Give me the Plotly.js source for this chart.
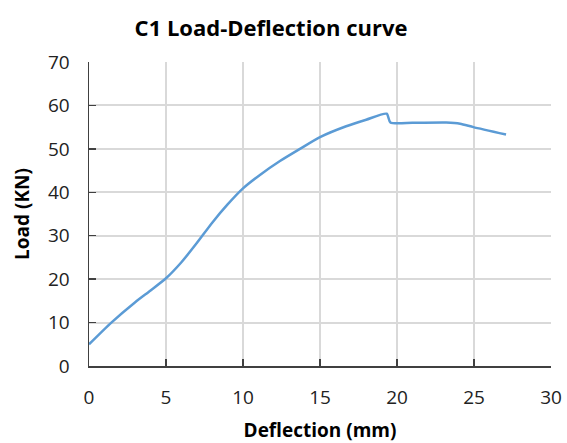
<!DOCTYPE html>
<html><head><meta charset="utf-8">
<script src="https://cdn.plot.ly/plotly-3.0.1.min.js"></script>
<style>html,body{margin:0;padding:0;background:#fff}#c{width:567px;height:443px}</style>
</head><body><div id="c"></div>
<script>
const deflection = [0, 1.45, 3.0, 4.0, 5.0, 6.0, 7.0, 8.0, 9.0, 10.0, 11.1, 12.4, 13.7, 15.0, 16.7, 18.0, 19.33, 19.57, 21.0, 23.2, 24.1, 24.96, 27.08];
const load       = [5.0, 10.0, 14.7, 17.4, 20.2, 23.9, 28.3, 33.0, 37.2, 40.9, 44.0, 47.2, 50.0, 52.7, 55.2, 56.7, 58.1, 56.06, 56.0, 56.06, 55.8, 55.0, 53.3];
const xTicks = [0, 5, 10, 15, 20, 25, 30];
const yTicks = [0, 10, 20, 30, 40, 50, 60, 70];
const font = "Open Sans, Lato, sans-serif";
Plotly.newPlot('c', [{
  x: deflection, y: load, type: 'scatter', mode: 'lines',
  line: {color: '#5b9bd5', width: 2.5, shape: 'spline', smoothing: 0.6}
}], {
  width: 567, height: 443,
  margin: {l: 89, r: 16, t: 62, b: 77},
  paper_bgcolor: '#fff', plot_bgcolor: '#fff',
  showlegend: false,
  title: {text: '<b>C1 Load-Deflection curve</b>', x: 0.478, xanchor: 'center', y: 0.935, yanchor: 'middle',
          font: {family: font, size: 22, color: '#000'}},
  xaxis: {range: [0, 30], tickvals: xTicks, ticktext: xTicks.map(String),
          showgrid: true, gridcolor: '#d9d9d9', gridwidth: 2,
          showline: true, linecolor: '#404040', linewidth: 1.5,
          ticks: 'inside', ticklen: 7, tickcolor: '#404040', tickwidth: 1.5,
          ticklabelstandoff: 14,
          zeroline: false, automargin: false,
          tickfont: {family: font, size: 19, color: '#222'},
          title: {text: '<b>Deflection (mm)</b>', font: {family: font, size: 19, color: '#000'}, standoff: 19}},
  yaxis: {range: [0, 70], tickvals: yTicks, ticktext: yTicks.map(String),
          showgrid: true, gridcolor: '#d9d9d9', gridwidth: 2,
          showline: true, linecolor: '#404040', linewidth: 1.5,
          ticks: 'inside', ticklen: 7, tickcolor: '#404040', tickwidth: 1.5,
          ticklabelstandoff: 14,
          zeroline: false, automargin: false,
          tickfont: {family: font, size: 19, color: '#222'},
          title: {text: '<b>Load (KN)</b>', font: {family: font, size: 19, color: '#000'}, standoff: 13}}
}, {staticPlot: true});
</script></body></html>
